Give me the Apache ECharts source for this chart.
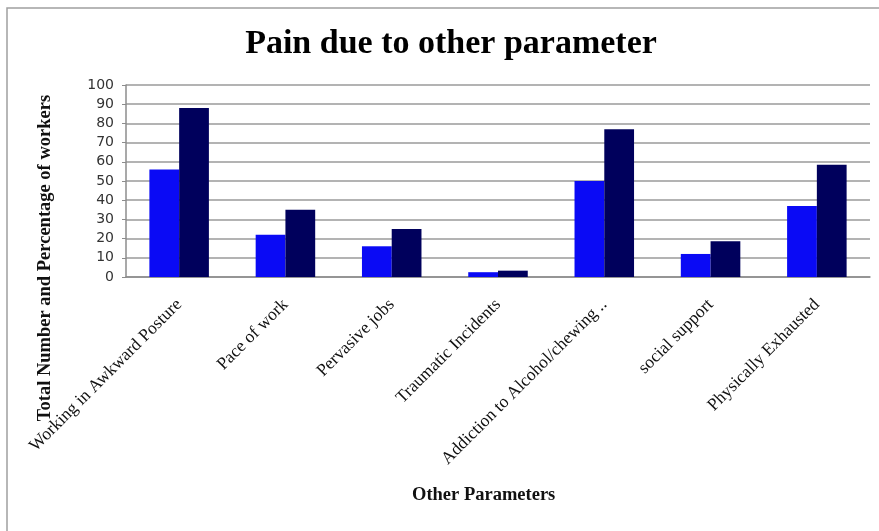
<!DOCTYPE html>
<html>
<head>
<meta charset="utf-8">
<script src="https://cdn.jsdelivr.net/npm/echarts@6/dist/echarts.min.js"></script>
<style>
  html, body { margin: 0; padding: 0; background: #ffffff; }
  #chart { width: 879px; height: 531px; }
</style>
</head>
<body>
<div id="chart"></div>
<script>
// Categories on the x axis
const categories = [
  'Working in Awkward Posture',
  'Pace of work',
  'Pervasive jobs',
  'Traumatic Incidents',
  'Addiction to Alcohol/chewing ..',
  'social support',
  'Physically Exhausted'
];
// Total number of workers reporting pain
const totalNumber = [56, 22, 16, 2.5, 50, 12, 37];
// Percentage of workers reporting pain
const percentage = [88, 35, 25, 3.3, 77, 18.6, 58.4];
// Value axis ticks
const yMin = 0, yMax = 100, yStep = 10;

const serif = '"Liberation Serif", "Times New Roman", serif';
const sans = '"DejaVu Sans", Verdana, sans-serif';

const chart = echarts.init(document.getElementById('chart'), null, { renderer: 'canvas' });
chart.setOption({
  backgroundColor: '#ffffff',
  animation: false,
  title: {
    text: 'Pain due to other parameter',
    left: 446, top: 22, textAlign: 'center',
    textStyle: { fontFamily: serif, fontWeight: 'bold', fontSize: 34, color: '#000000' }
  },
  graphic: [{
    type: 'rect',
    shape: { x: 7, y: 8, width: 900, height: 560 },
    style: { fill: 'none', stroke: '#a0a0a0', lineWidth: 1.5 },
    silent: true
  }, {
    // value axis title, drawn vertically beside the tick labels
    type: 'text',
    x: 45, y: 258,
    rotation: Math.PI / 2,
    style: {
      text: 'Total Number and Percentage of workers',
      font: 'bold 18.5px ' + serif,
      fill: '#111111',
      textAlign: 'center',
      textVerticalAlign: 'middle'
    }
  }, {
    type: 'text',
    left: 412, top: 486,
    style: {
      text: 'Other Parameters',
      font: 'bold 18.5px ' + serif,
      fill: '#111111'
    }
  }],
  grid: { left: 126, right: 9, top: 85, bottom: 254, containLabel: false },
  xAxis: {
    type: 'category',
    data: categories,
    axisLine: { show: true, lineStyle: { color: '#8c8c8c', width: 1.5 } },
    axisTick: { show: false },
    axisLabel: {
      rotate: 45, interval: 0, margin: 25,
      fontFamily: serif, fontSize: 17.5, color: '#111111'
    }
  },
  yAxis: {
    type: 'value',
    min: yMin, max: yMax, interval: yStep,
    axisLine: { show: true, lineStyle: { color: '#8c8c8c', width: 1.5 } },
    axisTick: { show: true, length: 4, lineStyle: { color: '#8c8c8c' } },
    axisLabel: { fontFamily: sans, fontSize: 14, color: '#333333', margin: 12 },
    splitLine: { show: true, lineStyle: { color: '#9a9a9a', width: 1.5 } }
  },
  series: [{
    name: 'Total Number',
    type: 'bar',
    data: totalNumber,
    barGap: '0%',
    barCategoryGap: '44%',
    itemStyle: { color: '#0a0af5' }
  }, {
    name: 'Percentage',
    type: 'bar',
    data: percentage,
    itemStyle: { color: '#00005c' }
  }]
});
</script>
</body>
</html>
